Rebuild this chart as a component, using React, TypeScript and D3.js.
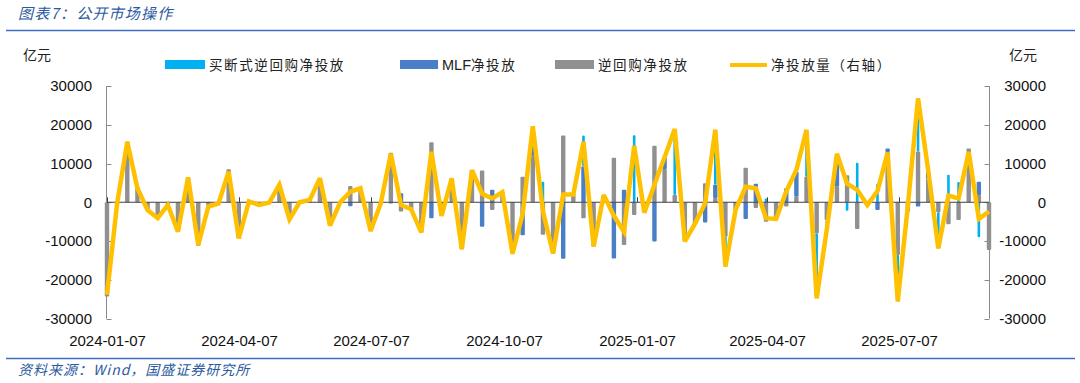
import React from "react";
import * as d3 from "d3";

// Weekly categories
const weeks: Date[] = d3.timeDay.range(new Date(2024, 0, 7), new Date(2025, 8, 8), 7);

const repoNet = [
  -24300, -500, 15600, 4000, -2000, -3700, -300, -7600, 6400, -11200,
  -800, -300, 8500, -9300, 0, -300, -100, 4600, -4400, 0,
  600, 6200, -6000, -200, 4200, 3600, -7500, -300, 12800, -2400,
  -1800, -7800, 15500, -3500, 3000, -12100, 8300, 8200, -2000, 2600,
  -13300, 6600, 12200, -8400, -13200, 17200, 2000, -4100, -11400, 1900,
  11500, -11000, -3300, -2700, 14600, 8600, 1900, -10100, -5800, 4900,
  1100, -8900, -2000, 8900, -1500, -5000, -4000, -1100, 1400, 6600,
  -8000, -4600, 4000, 7000, -6900, -700, 0, 13000, -13600, -2400,
  13100, 6000, -2600, -5700, -4600, 13900, 1900, -12300,
];
const mlfNet = [
  0, 0, 0, 0, 0, 0, -400, 0, 0, 0,
  -300, 0, 0, 0, 200, -400, 0, 0, 0, 0,
  0, 0, 0, 0, -1000, 0, 0, 0, -300, 2300,
  0, 0, -4100, 0, 3200, 0, 0, -6300, 3200, 0,
  0, -8500, 3800, 0, 0, -14600, 0, 9200, 0, 0,
  -14500, 3200, 0, 0, -10100, 3000, 0, 0, 0, -5200,
  3400, 0, 0, -4300, 4800, 0, 0, 3600, 6500, 0,
  0, 0, 6500, 0, 0, 0, -2000, 900, 0, 0,
  -1100, 1900, 0, 0, 0, 0, 3400, 0,
];
const outrightNet = [
  0, 0, 0, 0, 0, 0, 0, 0, 0, 0,
  0, 0, 0, 0, 0, 0, 0, 0, 0, 0,
  0, 0, 0, 0, 0, 0, 0, 0, 0, 0,
  0, 0, 0, 0, 0, 0, 0, 0, 0, 0,
  0, 0, 3500, 5300, 0, 0, 0, 8000, 0, 0,
  0, 0, 17300, 0, 0, 0, 17000, 0, 0, 0,
  14100, -7700, 0, 0, 0, 1000, 0, 0, 0, 11500,
  -16000, -2500, 0, -2200, 10200, 0, 4800, 0, -12000, 0,
  13700, 0, -9300, 7100, 5200, 0, -9000, 0,
];
const totalNet = [
  -23900, -300, 15600, 3600, -2000, -4100, -700, -7600, 6400, -11000,
  -1100, -300, 7900, -9300, 200, -700, -100, 4500, -4400, 0,
  600, 6200, -6000, 0, 2700, 3600, -7400, -300, 12500, -700,
  -1800, -7800, 13000, -3500, 6200, -12100, 8300, 2200, 1000, 2600,
  -13300, -3000, 19600, -2300, -13200, 2000, 2000, 15600, -11400, 1900,
  -3500, -7600, 14600, -2700, 4500, 11600, 18900, -10100, -5500, -300,
  18700, -16600, -2000, 4000, 3600, -4100, -4300, 2800, 8300, 18700,
  -24800, -7000, 12500, 4800, 3200, -700, 2900, 12800, -25600, -800,
  26800, 8300, -11900, 1700, 1000, 13000, -4300, -2400,
];

const yTicks = [30000, 20000, 10000, 0, -10000, -20000, -30000];
const xTickDates = ["2024-01-07", "2024-04-07", "2024-07-07", "2024-10-07", "2025-01-07", "2025-04-07", "2025-07-07"];

const COLORS = { outright: "#00B0F0", mlf: "#4A7EC6", repo: "#909090", total: "#FFC000" };

const W = 1080, H = 383;
const PL = 107, PR = 989, PT = 86, PB = 318.5;

export default function App() {
  const x = d3.scaleTime().domain([weeks[0], weeks[weeks.length - 1]]).range([PL, PR]);
  const y = d3.scaleLinear().domain([-30000, 30000]).range([PB, PT]);
  const y2 = d3.scaleLinear().domain([-30000, 30000]).range([PB, PT]);

  const rows = weeks.map((d, i) => ({ date: d, repo: repoNet[i], mlf: mlfNet[i], outright: outrightNet[i] }));
  const keys = ["repo", "mlf", "outright"];
  const stacked = d3.stack<any>().keys(keys).offset(d3.stackOffsetDiverging)(rows);

  const line = d3.line<number>().x((_, i) => x(weeks[i])).y((v) => y2(v));
  const parse = d3.timeParse("%Y-%m-%d");

  const cjk = "'Noto Sans CJK SC', 'Noto Sans', sans-serif";
  const num = "'Liberation Sans', Arial, sans-serif";
  const titleBlue = "#2C5AA0";

  const legendItems = [
    { x: 165, w: 40, color: COLORS.outright, latin: "", label: "买断式逆回购净投放", type: "rect" },
    { x: 400, w: 38, color: COLORS.mlf, latin: "MLF", label: "净投放", type: "rect" },
    { x: 555, w: 39, color: COLORS.repo, latin: "", label: "逆回购净投放", type: "rect" },
    { x: 730, w: 37, color: COLORS.total, latin: "", label: "净投放量（右轴）", type: "line" },
  ];

  return (
    <svg width={W} height={H} style={{ position: "absolute", left: 0, top: 0, background: "#fff" }}>
      <rect x={0} y={0} width={W} height={H} fill="#fff" />
      {/* Title */}
      <text x={18} y={19} fontFamily={cjk} fontSize={15} fontStyle="italic" fill={titleBlue} letterSpacing={1.2}>
        图表7：公开市场操作
      </text>
      <line x1={6} x2={1075} y1={30.5} y2={30.5} stroke="#3D6CC0" strokeWidth={1.3} />

      {/* Unit labels */}
      <text x={23} y={60} fontFamily={cjk} fontSize={14} fill="#222">亿元</text>
      <text x={1009} y={60} fontFamily={cjk} fontSize={14} fill="#222">亿元</text>

      {/* Legend */}
      {legendItems.map((it, k) => (
        <g key={k}>
          {it.type === "rect" ? (
            <rect x={it.x} y={60} width={it.w} height={9} fill={it.color} />
          ) : (
            <line x1={it.x} x2={it.x + it.w} y1={65} y2={65} stroke={it.color} strokeWidth={4} />
          )}
          <text x={it.x + it.w + 4} y={69.5} fontFamily={cjk} fontSize={13.5} fill="#222">
            {it.latin ? <tspan fontFamily={num} fontSize={14.5}>{it.latin}</tspan> : null}
            <tspan letterSpacing={1.6}>{it.label}</tspan>
          </text>
        </g>
      ))}

      {/* Axes */}
      <line x1={106.5} x2={106.5} y1={PT} y2={PB} stroke="#8a8a8a" strokeWidth={1} />
      <line x1={989.5} x2={989.5} y1={PT} y2={PB} stroke="#8a8a8a" strokeWidth={1} />
      {yTicks.map((t) => (
        <g key={t}>
          <line x1={106.5} x2={111.5} y1={Math.round(y(t)) + 0.5} y2={Math.round(y(t)) + 0.5} stroke="#8a8a8a" />
          <line x1={984.5} x2={989.5} y1={Math.round(y2(t)) + 0.5} y2={Math.round(y2(t)) + 0.5} stroke="#8a8a8a" />
          <text x={92} y={y(t)} dy="0.35em" textAnchor="end" fontFamily={num} fontSize={15} fill="#111">{t}</text>
          <text x={1046} y={y2(t)} dy="0.35em" textAnchor="end" fontFamily={num} fontSize={15} fill="#111">{t}</text>
        </g>
      ))}

      {/* Bars */}
      {stacked.map((s) => (
        <g key={s.key}>
          {s.map((d, i) => {
            const v = (rows[i] as any)[s.key];
            if (!v) return null;
            const bw = s.key === "outright" ? 2.6 : 4.4;
            const y0 = y(d[0]), y1 = y(d[1]);
            return (
              <rect
                key={i}
                x={x(weeks[i]) - bw / 2}
                y={Math.min(y0, y1)}
                width={bw}
                height={Math.abs(y1 - y0)}
                fill={(COLORS as any)[s.key]}
                rx={1}
              />
            );
          })}
        </g>
      ))}

      {/* Zero line and x ticks */}
      <line x1={PL} x2={PR} y1={y(0)} y2={y(0)} stroke="#404040" strokeWidth={1} />
      {xTickDates.map((s) => {
        const xx = Math.round(x(parse(s) as Date)) + 0.5;
        return (
          <g key={s}>
            <line x1={xx} x2={xx} y1={y(0) - 5} y2={y(0)} stroke="#404040" />
            <text x={xx} y={346} textAnchor="middle" fontFamily={num} fontSize={15} fill="#111">{s}</text>
          </g>
        );
      })}

      {/* Net line (right axis) */}
      <path d={line(totalNet) || ""} fill="none" stroke={COLORS.total} strokeWidth={4.5} strokeLinejoin="miter" strokeMiterlimit={3} />

      {/* Source */}
      <line x1={6} x2={1075} y1={358.5} y2={358.5} stroke="#3D6CC0" strokeWidth={1.3} />
      <text x={18} y={375} fontFamily={cjk} fontSize={14} fontStyle="italic" fill={titleBlue} letterSpacing={1}>
        资料来源：Wind，国盛证券研究所
      </text>
    </svg>
  );
}
